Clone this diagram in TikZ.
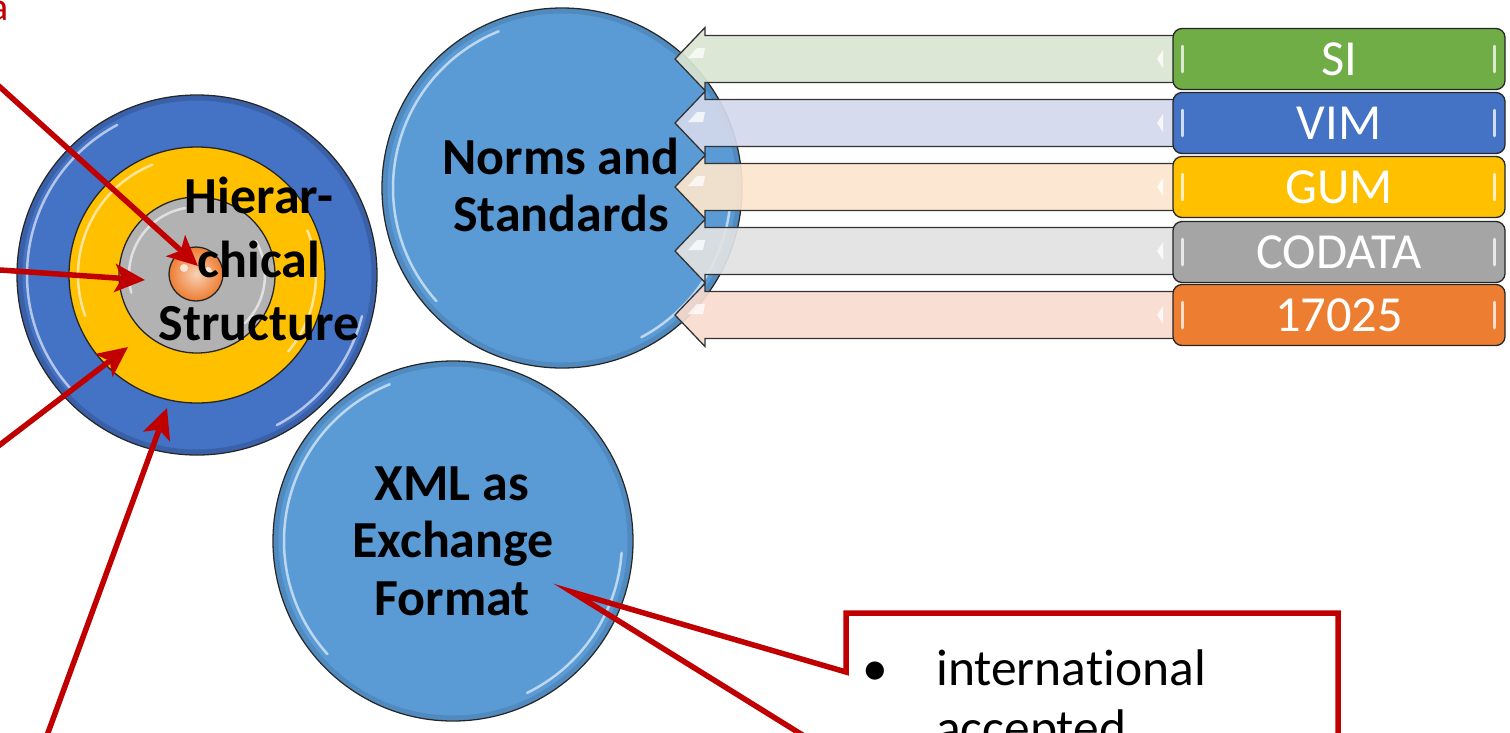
\documentclass[tikz,border=0pt]{standalone}
\usepackage{fontspec}
\setmainfont{Carlito}[Ligatures=NoCommon]
\usetikzlibrary{arrows.meta,calc}

\definecolor{ringblue}{HTML}{4472C4}
\definecolor{ringgold}{HTML}{FFC000}
\definecolor{ringgray}{HTML}{A5A5A5}
\definecolor{ringorange}{HTML}{ED7D31}
\definecolor{discblue}{HTML}{5B9BD5}
\definecolor{tagGreen}{HTML}{70AD47}
\definecolor{alertred}{HTML}{C00000}
\definecolor{shaftSI}{RGB}{218,229,211}
\definecolor{shaftVIM}{RGB}{211,217,236}
\definecolor{shaftGUM}{RGB}{252,230,206}
\definecolor{shaftCODATA}{RGB}{226,226,226}
\definecolor{shaftISO}{RGB}{248,219,207}

% white glossy arc inside a round node: node, radius, start angle, end angle
\newcommand\glossarc[4]{%
  \draw[white, opacity=.6, line width=2.5pt, line cap=round]
    ($(#1.center)+(#3:#2)$) arc[start angle=#3, end angle=#4, radius=#2];}

\begin{document}
\begin{tikzpicture}[x=1pt, y=1pt,
  disc/.style={circle, draw=black!85, line width=1.3pt, inner sep=0pt},
  rim/.style={draw=#1, line width=5pt, opacity=.35},
  heading/.style={anchor=base, inner sep=0pt, font=\fontsize{52}{60}\selectfont\bfseries},
  tagbox/.style={rectangle, rounded corners=9pt, draw=black!85, line width=1.3pt,
    minimum width=332pt, minimum height=61pt, inner sep=0pt, text=white,
    font=\fontsize{50.5}{58}\selectfont},
  pointer/.style={draw=alertred, line width=5.5pt,
    -{Stealth[length=30pt, width=28pt, inset=7pt]}},
  blockarrow/.style={fill=#1, fill opacity=.92, draw=black!80, line width=1.3pt, line join=miter},
  plain/.style={inner sep=0pt, font=\fontsize{51.5}{60}\selectfont},
]
\useasboundingbox (0,0) rectangle (1510,-732);
\clip (0,0) rectangle (1510,-732);

% ---- concentric rings --------------------------------------------------
\node[disc, fill=ringblue,  minimum size=360pt] (outer)  at (197,-275) {};
\draw[rim=ringblue!60!black] (outer.center) circle[radius=177pt];
\glossarc{outer}{170pt}{118}{222}
\glossarc{outer}{170pt}{-62}{-14}
\node[disc, fill=ringgold,  minimum size=256pt] (middle) at (197,-275) {};
\glossarc{middle}{119pt}{112}{200}
\glossarc{middle}{119pt}{-40}{22}
\node[disc, fill=ringgray!85!white, minimum size=156pt] (inner)  at (197,-275) {};
\glossarc{inner}{68pt}{100}{195}
\glossarc{inner}{68pt}{-45}{30}
\node[disc, inner color=ringorange!35!white, outer color=ringorange, minimum size=54pt] (core) at (196,-274) {};
\fill[white, opacity=.7] ($(core.center)+(-12pt,6pt)$) circle[radius=4pt];
\fill[white, opacity=.7] ($(core.center)+(12pt,3pt)$) circle[radius=4pt];

% ---- norms disc ------------------------------------------------------
\node[disc, fill=discblue, minimum size=360pt] (norms) at (562,-188) {};
\draw[rim=discblue!70!black] (norms.center) circle[radius=177pt];
\glossarc{norms}{169pt}{112}{222}
\glossarc{norms}{169pt}{-62}{-8}

% ---- XML disc --------------------------------------------------------
\node[disc, fill=discblue, minimum size=360pt] (xml) at (453,-541) {};
\draw[rim=discblue!70!black] (xml.center) circle[radius=177pt];
\glossarc{xml}{169pt}{112}{222}
\glossarc{xml}{169pt}{-64}{-4}

% ---- block arrows feeding the norms disc -----------------------------
\foreach \c/\col in {59/shaftSI, 123/shaftVIM, 187/shaftGUM, 251/shaftCODATA, 315/shaftISO}{
  \path[blockarrow=\col] (675,-\c) -- (705,-\c+31.5) -- (705,-\c+23.5) -- (1190,-\c+23.5)
    -- (1190,-\c-23.5) -- (705,-\c-23.5) -- (705,-\c-31.5) -- cycle;
  \fill[white, opacity=.75] (688,-\c+1) -- (697,-\c+11) -- (705,-\c+11) -- (703,-\c+1) -- cycle;
  \fill[white, opacity=.8] (1163,-\c+9) -- (1157,-\c) -- (1163,-\c-9) -- cycle;
}

% ---- standards tags ---------------------------------------------------
\node[tagbox, fill=tagGreen]   (si)     at (1339,-59)  {SI};
\node[tagbox, fill=ringblue]   (vim)    at (1339,-123) {VIM};
\node[tagbox, fill=ringgold]   (gum)    at (1339,-187) {GUM};
\node[tagbox, fill=ringgray]   (codata) at (1339,-252) {CODATA};
\node[tagbox, fill=ringorange] (iso)    at (1339,-315) {17025};
\foreach \t in {si, vim, gum, codata, iso}{
  \draw[white, opacity=.75, line width=2.5pt, line cap=round]
    ($(\t.west)+(10pt,-13pt)$) -- ($(\t.west)+(10pt,13pt)$);
  \draw[white, opacity=.75, line width=2.5pt, line cap=round]
    ($(\t.east)+(-11pt,-13pt)$) -- ($(\t.east)+(-11pt,13pt)$);
}

% ---- red pointers into the rings -------------------------------------
\coordinate (s1) at (-20,-69);   \coordinate (t1) at (198,-266);
\coordinate (s2) at (-20,-268.6);\coordinate (t2) at (145,-280);
\coordinate (s3) at (-20,-460);  \coordinate (t3) at (128,-347);
\coordinate (s4) at (38,-760);   \coordinate (t4) at (167,-408);
\draw[pointer] (s1) -- (t1);
\draw[pointer] (s2) -- (t2);
\draw[pointer] (s3) -- (t3);
\draw[pointer] (s4) -- (t4);

\node[anchor=base east, inner sep=0pt, text=alertred, font=\fontsize{40}{48}\selectfont] (cut) at (9,-20) {a};

% ---- disc labels ------------------------------------------------------
\node[heading] (h1) at (259,-213) {Hierar-};
\node[heading] (h2) at (259,-277) {chical};
\node[heading] (h3) at (259,-340) {Structure};

\node[heading] (n1) at (561,-174) {Norms and};
\node[heading] (n2) at (561,-231) {Standards};

\node[heading] (x1) at (452,-500) {XML as};
\node[heading] (x2) at (453,-557) {Exchange};
\node[heading] (x3) at (452,-615) {Format};

% ---- callout on the XML disc -----------------------------------------
\coordinate (xtip) at (572,-592);
\draw[alertred, line width=5.5pt, line join=miter, miter limit=20]
  (846,-672) -- (xtip) -- (846,-762) -- (846,-800) -- (1338,-800) -- (1338,-613) -- (846,-613) -- cycle;
\node[plain, anchor=base] (bullet) at (875,-685) {•};
\node[plain, anchor=base west] (intl) at (936,-685) {international};
\node[plain, anchor=base west] (acc)  at (936,-745) {accepted};
\end{tikzpicture}
\end{document}
